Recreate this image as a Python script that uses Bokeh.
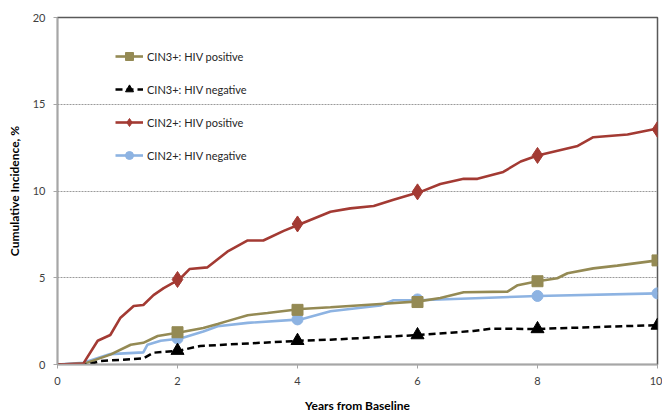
from bokeh.plotting import figure
from bokeh.models import Legend, LegendItem, FixedTicker, Range1d
from bokeh.embed import file_html
from bokeh.resources import INLINE

# ---- data ----
cin2_pos_x = [0, 0.43, 0.67, 0.88, 1.05, 1.27, 1.43, 1.6, 1.77, 2.03, 2.2, 2.5, 2.83, 3.17, 3.43, 3.77, 4.05, 4.55, 4.88, 5.27, 5.6, 6.05, 6.38, 6.77, 7.0, 7.43, 7.72, 8.0, 8.67, 8.93, 9.5, 10]
cin2_pos_y = [0, 0.05, 1.37, 1.7, 2.7, 3.37, 3.43, 4.0, 4.4, 4.9, 5.5, 5.6, 6.5, 7.15, 7.15, 7.7, 8.1, 8.8, 9.0, 9.14, 9.5, 9.95, 10.4, 10.7, 10.7, 11.1, 11.7, 12.05, 12.6, 13.1, 13.26, 13.6]

cin3_pos_x = [0, 0.45, 0.88, 1.22, 1.43, 1.67, 2.05, 2.43, 2.67, 2.83, 3.17, 3.5, 4.05, 4.55, 5.38, 6.02, 6.38, 6.77, 7.5, 7.67, 8.0, 8.33, 8.5, 8.93, 9.33, 10]
cin3_pos_y = [0, 0.05, 0.57, 1.14, 1.25, 1.64, 1.86, 2.1, 2.33, 2.5, 2.84, 2.97, 3.2, 3.3, 3.49, 3.64, 3.83, 4.16, 4.2, 4.57, 4.8, 4.97, 5.26, 5.54, 5.7, 6.0]

cin2_neg_x = [0, 0.43, 0.88, 1.43, 1.5, 1.72, 2.05, 2.43, 2.67, 3.17, 4.05, 4.55, 5.38, 5.6, 6.02, 8.0, 10]
cin2_neg_y = [0, 0.1, 0.6, 0.7, 1.14, 1.37, 1.5, 1.9, 2.2, 2.4, 2.6, 3.07, 3.4, 3.7, 3.7, 3.95, 4.1]

cin3_neg_x = [0, 0.5, 0.72, 1.43, 1.6, 2.03, 2.38, 4.05, 4.55, 6.02, 6.93, 7.22, 8.0, 10]
cin3_neg_y = [0, 0.0, 0.2, 0.35, 0.68, 0.8, 1.07, 1.37, 1.43, 1.7, 1.93, 2.06, 2.05, 2.27]

mark_x = [2, 4, 6, 8, 10]
cin2_pos_m = [4.9, 8.1, 9.95, 12.05, 13.55]
cin3_pos_m = [1.86, 3.15, 3.6, 4.8, 6.0]
cin2_neg_m = [1.5, 2.6, 3.75, 3.95, 4.1]
cin3_neg_m = [0.8, 1.37, 1.7, 2.05, 2.25]

labels = ["CIN3+: HIV positive", "CIN3+: HIV negative", "CIN2+: HIV positive", "CIN2+: HIV negative"]
x_ticks = [0, 2, 4, 6, 8, 10]
y_ticks = [0, 5, 10, 15, 20]

FONT = "Lato"
OLIVE = "#948a54"
RED = "#a33a33"
BLUE = "#8db3e2"
BLACK = "#000000"

p = figure(width=662, height=415, output_backend="svg", toolbar_location=None,
           x_range=Range1d(0, 10), y_range=Range1d(0, 20),
           min_border_left=57, min_border_right=5, min_border_top=17, min_border_bottom=48)
p.background_fill_color = "white"
p.border_fill_color = "white"
p.outline_line_color = "#595959"
p.outline_line_width = 1.5

p.xgrid.visible = False
p.ygrid.grid_line_color = "#9a9a9a"
p.ygrid.grid_line_dash = "2 1"
p.ygrid.grid_line_width = 1
p.ygrid.ticker = FixedTicker(ticks=[5, 10, 15])

for ax in (p.xaxis[0], p.yaxis[0]):
    ax.axis_line_color = "#a6a6a6"
    ax.axis_line_width = 1.5
    ax.major_tick_line_color = "#a6a6a6"
    ax.major_tick_out = 4
    ax.major_tick_in = 0
    ax.minor_tick_line_color = None
    ax.major_label_text_font = FONT
    ax.major_label_text_font_size = "11px"
    ax.major_label_text_color = "#404040"
    ax.axis_label_text_font = FONT
    ax.axis_label_text_font_size = "12px"
    ax.axis_label_text_font_style = "bold"
    ax.axis_label_text_color = "#000000"

p.xaxis.ticker = FixedTicker(ticks=x_ticks)
p.yaxis.ticker = FixedTicker(ticks=y_ticks)
p.xaxis.axis_label = "Years from Baseline"
p.yaxis.axis_label = "Cumulative Incidence, %"
p.xaxis.major_label_standoff = 8
p.yaxis.major_label_standoff = 8
p.xaxis.axis_label_standoff = 10
p.yaxis.axis_label_standoff = 8

l1 = p.line(cin2_neg_x, cin2_neg_y, line_color=BLUE, line_width=2.6)
m1 = p.scatter(mark_x, cin2_neg_m, marker="circle", size=11, fill_color=BLUE, line_color=BLUE)
l2 = p.line(cin3_pos_x, cin3_pos_y, line_color=OLIVE, line_width=2.6)
m2 = p.scatter(mark_x, cin3_pos_m, marker="square", size=11, fill_color=OLIVE, line_color=OLIVE)
l3 = p.line(cin3_neg_x, cin3_neg_y, line_color=BLACK, line_width=2.5, line_dash="7 4")
m3 = p.scatter(mark_x, cin3_neg_m, marker="triangle", size=13, fill_color=BLACK, line_color=BLACK)
l4 = p.line(cin2_pos_x, cin2_pos_y, line_color=RED, line_width=2.6)
m4 = p.scatter(mark_x, cin2_pos_m, marker="diamond", size=16, fill_color=RED, line_color=RED)

legend = Legend(items=[
    LegendItem(label=labels[0], renderers=[l2, m2]),
    LegendItem(label=labels[1], renderers=[l3, m3]),
    LegendItem(label=labels[2], renderers=[l4, m4]),
    LegendItem(label=labels[3], renderers=[l1, m1]),
], location=(58, 199))
legend.margin = 0
legend.padding = 0
legend.spacing = 13
legend.glyph_width = 28
legend.glyph_height = 20
legend.label_height = 20
legend.label_standoff = 4
legend.label_text_font = FONT
legend.label_text_font_size = "11px"
legend.label_text_color = "#262626"
legend.background_fill_alpha = 0
legend.border_line_color = None
p.add_layout(legend)

html = file_html(p, INLINE)
html = html.replace("</head>", "<style>html,body{overflow:hidden;}</style></head>", 1)
open("out.html", "w").write(html)
